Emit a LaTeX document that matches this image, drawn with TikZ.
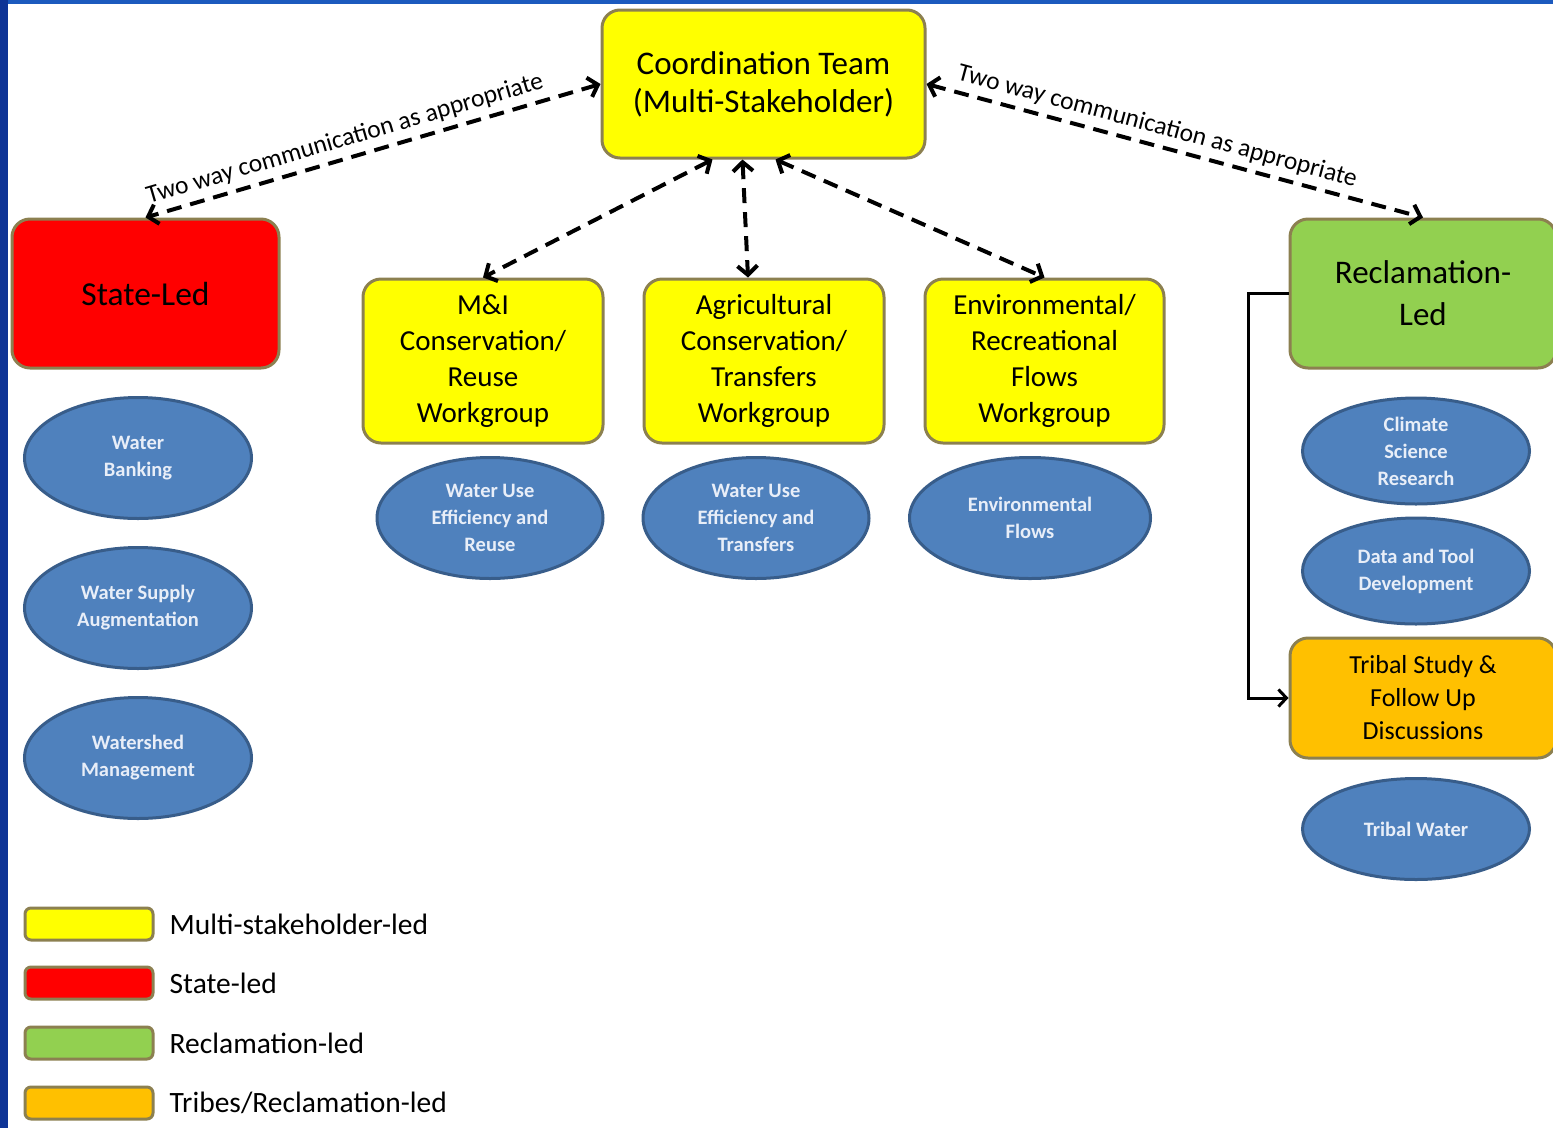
\documentclass[tikz,border=0pt]{standalone}
\usepackage{fontspec}
\setmainfont{Carlito}
\usetikzlibrary{arrows.meta,positioning,shapes.geometric}

\definecolor{frameblue}{RGB}{14,52,150}
\definecolor{frametop}{RGB}{28,90,190}
\definecolor{boxline}{RGB}{140,128,80}
\definecolor{multiyel}{RGB}{255,255,0}
\definecolor{statered}{RGB}{255,0,0}
\definecolor{reclgreen}{RGB}{146,208,80}
\definecolor{tribeorange}{RGB}{255,192,0}
\definecolor{ellfill}{RGB}{79,129,189}
\definecolor{ellline}{RGB}{56,93,138}
\definecolor{elltext}{RGB}{232,238,248}

\begin{document}
\begin{tikzpicture}[x=1pt,y=-1pt,
  grp/.style={draw=boxline,line width=3pt,rounded corners=18pt,inner sep=0pt,align=center},
  task/.style={ellipse,draw=ellline,fill=ellfill,line width=3pt,inner sep=0pt,align=center,
    text=elltext,font=\fontsize{20.5}{27}\selectfont\bfseries},
  twoway/.style={{Straight Barb[length=9pt,width=20pt]}-{Straight Barb[length=9pt,width=20pt]},
    dash pattern=on 15pt off 9pt,line width=4pt},
  commlabel/.style={sloped,above,inner sep=6pt,font=\fontsize{25.5}{30}\selectfont},
  elbow/.style={-{Straight Barb[length=8pt,width=17pt]},line width=3pt},
  legbox/.style={draw=boxline,line width=3pt,rounded corners=6pt,minimum width=128pt,minimum height=32pt,inner sep=0pt},
  legtxt/.style={inner sep=0pt,font=\fontsize{29.5}{35}\selectfont}]
  \clip (0,0) rectangle (1553,1128);
  \fill[white] (0,0) rectangle (1553,1128);
  \fill[frametop] (0,0) rectangle (1553,4);
  \fill[frameblue] (0,0) rectangle (8,1128);

  % leading groups
  \node (CT) [grp,fill=multiyel,minimum width=323pt,minimum height=148pt,font=\fontsize{33}{38}\selectfont] at (763.5,84) {Coordination Team\\(Multi-Stakeholder)};
  \node (SL) [grp,fill=statered,minimum width=267pt,minimum height=149pt,font=\fontsize{33.5}{42}\selectfont] at (145.5,293.5) {State-Led};
  \node (RL) [grp,fill=reclgreen,minimum width=266pt,minimum height=149pt,font=\fontsize{33}{42}\selectfont] at (1423,293.5) {Reclamation-\\Led};
  \node (TS) [grp,fill=tribeorange,minimum width=266pt,minimum height=120pt,font=\fontsize{26}{33}\selectfont] at (1423,698) {Tribal Study \&\\Follow Up\\Discussions};

  % workgroups
  \node (MI) [grp,fill=multiyel,minimum width=240pt,minimum height=164pt,font=\fontsize{29}{36}\selectfont] at (483,361) {M\&I\\Conservation/\\Reuse\\Workgroup};
  \node (AG) [grp,fill=multiyel,minimum width=240pt,minimum height=164pt,font=\fontsize{29}{36}\selectfont] at (764,361) {Agricultural\\Conservation/\\Transfers\\Workgroup};
  \node (EN) [grp,fill=multiyel,minimum width=239pt,minimum height=164pt,font=\fontsize{29}{36}\selectfont] at (1044.5,361) {Environmental/\\Recreational\\Flows\\Workgroup};

  % tasks
  \node (WB) [task,minimum width=227pt,minimum height=121pt] at (138,458) {Water\\Banking};
  \node (WS) [task,minimum width=227pt,minimum height=121pt] at (138,608) {Water Supply\\Augmentation};
  \node (WM) [task,minimum width=227pt,minimum height=121pt] at (138,758) {Watershed\\Management};
  \node (ER) [task,minimum width=226pt,minimum height=121pt] at (490,518) {Water Use\\Efficiency and\\Reuse};
  \node (ET) [task,minimum width=226pt,minimum height=121pt] at (756,518) {Water Use\\Efficiency and\\Transfers};
  \node (EF) [task,minimum width=241pt,minimum height=121pt] at (1030,518) {Environmental\\Flows};
  \node (CS) [task,minimum width=227pt,minimum height=106pt] at (1416,451) {Climate\\Science\\Research};
  \node (DT) [task,minimum width=227pt,minimum height=106pt] at (1416,571) {Data and Tool\\Development};
  \node (TW) [task,minimum width=227pt,minimum height=101pt] at (1416,829) {Tribal Water};

  % communication
  \draw[twoway] (CT.west) -- node[commlabel,pos=0.55] {Two way communication as appropriate} (SL.north);
  \draw[twoway] (CT.east) -- node[commlabel,pos=0.455] {Two way communication as appropriate} (RL.north);
  \draw[twoway] ([xshift=-51pt]CT.south) -- (MI.north);
  \draw[twoway] ([xshift=-21pt]CT.south) -- ([xshift=-16pt]AG.north);
  \draw[twoway] ([xshift=12pt]CT.south) -- (EN.north);
  \draw[elbow] (RL.west) -- ++(-40,0) |- (TS.west);

  % legend
  \node (KY) [legbox,fill=multiyel] at (89,924) {};
  \node (KR) [legbox,fill=statered] at (89,983) {};
  \node (KG) [legbox,fill=reclgreen] at (89,1043) {};
  \node (KO) [legbox,fill=tribeorange] at (89,1103) {};
  \node (KYt) [legtxt,right=15pt of KY] {Multi-stakeholder-led};
  \node (KRt) [legtxt,right=15pt of KR] {State-led};
  \node (KGt) [legtxt,right=15pt of KG] {Reclamation-led};
  \node (KOt) [legtxt,right=15pt of KO] {Tribes/Reclamation-led};
\end{tikzpicture}
\end{document}
